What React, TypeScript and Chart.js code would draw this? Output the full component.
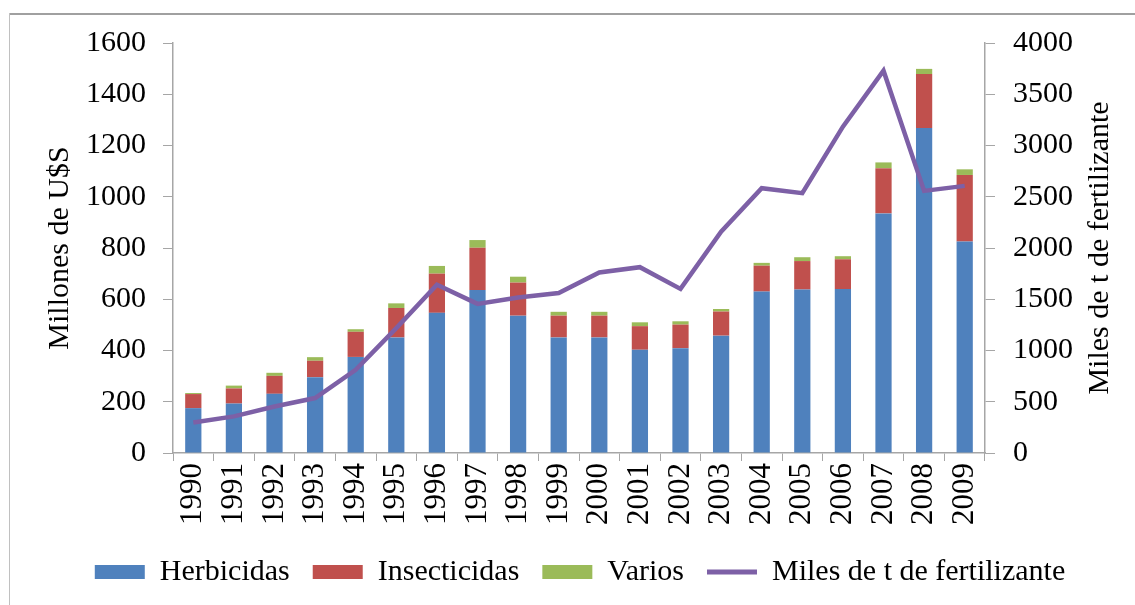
import React, { useEffect, useRef } from "react";
import { Chart, registerables } from "chart.js";

Chart.register(...registerables);

const years = ["1990","1991","1992","1993","1994","1995","1996","1997","1998","1999","2000","2001","2002","2003","2004","2005","2006","2007","2008","2009"];
const herbicidas = [175,193,231,296,375,451,547,636,536,451,451,403,409,458,630,638,640,935,1268,825];
const insecticidas = [55,59,70,64,98,115,153,165,129,85,85,92,92,94,101,111,116,176,211,260];
const varios = [4,11,12,14,10,18,30,30,23,15,15,15,13,10,11,15,12,23,20,22];
const fertilizante = [298,357,454,536,812,1218,1641,1455,1517,1560,1761,1813,1601,2160,2583,2535,3184,3730,2557,2606];

const leftTicks = [0,200,400,600,800,1000,1200,1400,1600];
const rightTicks = [0,500,1000,1500,2000,2500,3000,3500,4000];

const FONT = "'Liberation Serif', 'Times New Roman', serif";
const AXIS_COLOR = "#A6A6A6";
const LEFT_TITLE = "Millones de U$S";
const RIGHT_TITLE = "Miles de t de fertilizante";

const framePlugin = {
  id: "frame",
  beforeDraw(chart: any) {
    const ctx = chart.ctx;
    ctx.save();
    ctx.fillStyle = "#ffffff";
    ctx.fillRect(0, 0, chart.width, chart.height);
    ctx.strokeStyle = "#A0A0A0";
    ctx.lineWidth = 2;
    ctx.beginPath();
    ctx.moveTo(9, 14);
    ctx.lineTo(chart.width, 14);
    ctx.stroke();
    ctx.strokeStyle = "#C0C0C0";
    ctx.lineWidth = 1;
    ctx.beginPath();
    ctx.moveTo(9.5, 13);
    ctx.lineTo(9.5, chart.height);
    ctx.stroke();
    ctx.restore();
  },
  afterDraw(chart: any) {
    const ctx = chart.ctx;
    const area = chart.chartArea;
    const midY = (area.top + area.bottom) / 2;
    ctx.save();
    ctx.font = `30px ${FONT}`;
    ctx.fillStyle = "#000";
    ctx.textAlign = "center";
    ctx.textBaseline = "middle";
    ctx.save();
    ctx.translate(60, midY);
    ctx.rotate(-Math.PI / 2);
    ctx.fillText(LEFT_TITLE, 0, 0);
    ctx.restore();
    ctx.save();
    ctx.translate(1100, midY);
    ctx.rotate(-Math.PI / 2);
    ctx.fillText(RIGHT_TITLE, 0, 0);
    ctx.restore();
    ctx.restore();
  },
};

export default function App() {
  const ref = useRef<HTMLCanvasElement>(null);
  useEffect(() => {
    if (!ref.current) return;
    const chart = new Chart(ref.current, {
      type: "bar",
      data: {
        labels: years,
        datasets: [
          { type: "bar", label: "Herbicidas", data: herbicidas, backgroundColor: "#4F81BD", yAxisID: "y", order: 1, barPercentage: 0.4, categoryPercentage: 1 },
          { type: "bar", label: "Insecticidas", data: insecticidas, backgroundColor: "#C0504D", yAxisID: "y", order: 1, barPercentage: 0.4, categoryPercentage: 1 },
          { type: "bar", label: "Varios", data: varios, backgroundColor: "#9BBB59", yAxisID: "y", order: 1, barPercentage: 0.4, categoryPercentage: 1 },
          { type: "line", label: "Miles de t de fertilizante", data: fertilizante, borderColor: "#7D60A6", backgroundColor: "#7D60A6", borderWidth: 4.5, pointRadius: 0, yAxisID: "y1", order: 0, tension: 0 } as any,
        ],
      },
      options: {
        responsive: false,
        animation: false,
        layout: { padding: { left: 69, right: 44, top: 43, bottom: 8 } },
        plugins: {
          tooltip: { enabled: false },
          legend: {
            position: "bottom",
            labels: {
              font: { family: FONT, size: 30 },
              color: "#000",
              boxWidth: 50,
              boxHeight: 14,
              padding: 23,
              usePointStyle: true,
              pointStyleWidth: 50,
              sort: (a: any, b: any) => a.datasetIndex - b.datasetIndex,
              generateLabels: (chart: any) => {
                return chart.data.datasets.map((ds: any, i: number) => {
                  const isLine = ds.type === "line";
                  return {
                    text: ds.label,
                    datasetIndex: i,
                    fillStyle: ds.backgroundColor,
                    strokeStyle: ds.borderColor || ds.backgroundColor,
                    lineWidth: isLine ? 5 : 0,
                    pointStyle: isLine ? "line" : "rect",
                    hidden: false,
                    fontColor: "#000",
                  };
                });
              },
            },
          },
        },
        scales: {
          x: {
            stacked: true,
            offset: true,
            afterFit: (scale: any) => { scale.height += 7; },
            border: { display: true, color: AXIS_COLOR, width: 1.5 },
            grid: { display: true, drawOnChartArea: false, drawTicks: true, tickLength: 8, color: AXIS_COLOR, offset: true },
            ticks: { font: { family: FONT, size: 31 }, color: "#000", maxRotation: 90, minRotation: 90, padding: 2, autoSkip: false },
          },
          y: {
            type: "linear",
            position: "left",
            stacked: true,
            min: 0,
            max: 1600,
            afterBuildTicks: (axis: any) => { axis.ticks = leftTicks.map((v) => ({ value: v })); },
            border: { display: true, color: AXIS_COLOR, width: 1.5 },
            grid: { display: true, drawOnChartArea: false, drawTicks: true, tickLength: 10, color: AXIS_COLOR },
            ticks: { font: { family: FONT, size: 30 }, color: "#000", padding: 17, callback: (v: any) => String(v) },
          },
          y1: {
            type: "linear",
            position: "right",
            min: 0,
            max: 4000,
            afterBuildTicks: (axis: any) => { axis.ticks = rightTicks.map((v) => ({ value: v })); },
            border: { display: true, color: AXIS_COLOR, width: 1.5 },
            grid: { display: true, drawOnChartArea: false, drawTicks: true, tickLength: 10, color: AXIS_COLOR },
            ticks: { font: { family: FONT, size: 30 }, color: "#000", padding: 18, callback: (v: any) => String(v) },
          },
        },
      },
      plugins: [framePlugin],
    } as any);
    return () => chart.destroy();
  }, []);
  return (
    <div style={{ position: "absolute", left: 0, top: 0, width: 1135, height: 605 }}>
      <canvas ref={ref} width={1135} height={605} />
    </div>
  );
}
